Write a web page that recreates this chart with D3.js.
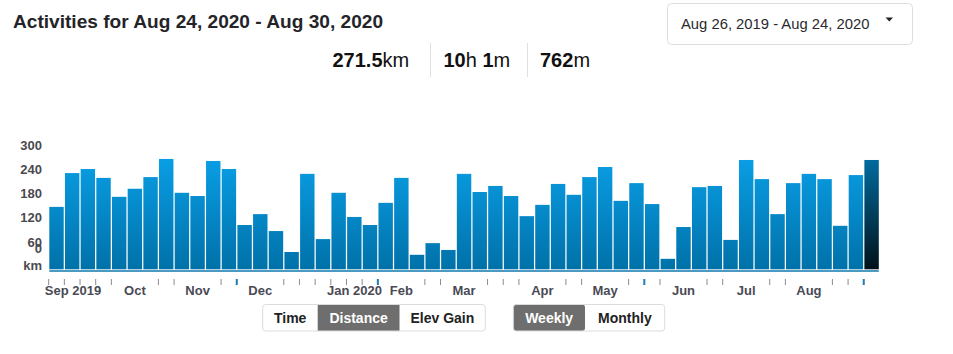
<!DOCTYPE html>
<html>
<head>
<meta charset="utf-8">
<script src="https://cdn.jsdelivr.net/npm/d3@7"></script>
<style>
    body { margin: 0; background: #fff; }
    svg { display: block; font-family: "Liberation Sans", Arial, sans-serif; }
</style>
</head>
<body>
<div id="chart"></div>
<script>

// weekly distances (km), weeks starting Mon Aug 26, 2019
const firstWeek = new Date(2019, 7, 26);
const lastWeek = new Date(2020, 7, 24);
const distances = [
    155, 239, 249, 227, 180, 200, 229, 274, 190, 182,
    269, 249, 110, 137, 95, 43, 237, 75, 190, 130,
    110, 165, 227, 36, 65, 48, 237, 192, 207, 182,
    132, 160, 212, 185, 229, 254, 170, 214, 162, 26,
    105, 204, 207, 73, 271.5, 224, 137, 214, 237, 224,
    108, 234, 271.5
];

// axis labels
const yTicks = [60, 120, 180, 240, 300];
const monthStarts = ['2019-09-01', '2019-10-01', '2019-11-01', '2019-12-01', '2020-01-01', '2020-02-01',
    '2020-03-01', '2020-04-01', '2020-05-01', '2020-06-01', '2020-07-01', '2020-08-01'];
const monthLabels = ['Sep 2019', 'Oct', 'Nov', 'Dec', 'Jan 2020', 'Feb',
    'Mar', 'Apr', 'May', 'Jun', 'Jul', 'Aug'];
const highlightTicks = [12, 21, 32, 35, 38, 41, 49, 52];

// header texts
const titleText = 'Activities for Aug 24, 2020 - Aug 30, 2020';
const rangeText = 'Aug 26, 2019 - Aug 24, 2020';
const stats = [
    [['271.5', true], ['km', false]],
    [['10', true], ['h ', false], ['1', true], ['m', false]],
    [['762', true], ['m', false]]
];
const metricButtons = ['Time', 'Distance', 'Elev Gain'];
const periodButtons = ['Weekly', 'Monthly'];

const width = 953;
const height = 354;

let weeks = d3.timeMonday.range(firstWeek, d3.timeDay.offset(lastWeek, 1));
let data = weeks.map((w, i) => ({week: w, km: distances[i]}));

let mySVG = d3.select('#chart')
    .append('svg')
        .attr('width', width)
        .attr('height', height);

//scales
let x = d3.scaleBand()
    .domain(weeks)
    .range([49.3, 878.8])
    .paddingInner(0.08)
    .paddingOuter(0);

let y = d3.scaleLinear()
    .domain([0, 300])
    .range([269.3, 148.5]);

//gradients
let defs = mySVG.append('defs');

let barGrad = defs.append('linearGradient')
    .attr('id', 'barGrad')
    .attr('gradientUnits', 'userSpaceOnUse')
    .attr('x1', 0).attr('x2', 0)
    .attr('y1', y(300)).attr('y2', y(0));
barGrad.append('stop').attr('offset', 0).attr('stop-color', '#0aa2ea');
barGrad.append('stop').attr('offset', 1).attr('stop-color', '#0071a9');

let selGrad = defs.append('linearGradient')
    .attr('id', 'selGrad')
    .attr('x1', 0).attr('x2', 0)
    .attr('y1', 0).attr('y2', 1);
selGrad.append('stop').attr('offset', 0).attr('stop-color', '#006b9e');
selGrad.append('stop').attr('offset', 1).attr('stop-color', '#02121a');

//title
mySVG.append('text')
    .attr('x', 13)
    .attr('y', 21)
    .attr('dominant-baseline', 'central')
    .style('font-size', '19.1px')
    .style('font-weight', 'bold')
    .style('fill', '#242428')
    .text(titleText);

//date range dropdown
mySVG.append('rect')
    .attr('x', 667.5).attr('y', 3.5)
    .attr('width', 245).attr('height', 41)
    .attr('rx', 4)
    .style('fill', '#fff')
    .style('stroke', '#dedede');

mySVG.append('text')
    .attr('x', 681)
    .attr('y', 24)
    .attr('dominant-baseline', 'central')
    .style('font-size', '14.8px')
    .style('fill', '#2a2a2e')
    .text(rangeText);

mySVG.append('path')
    .attr('d', 'M885.5,17.5 L893,17.5 L889.25,21.5 Z')
    .style('fill', '#222');

//stats row
let statX = [332.5, 443.5, 540];
stats.forEach((parts, i) => {
    let t = mySVG.append('text')
        .attr('x', statX[i])
        .attr('y', 60)
        .attr('dominant-baseline', 'central')
        .style('font-size', '20px')
        .style('fill', '#111');
    parts.forEach(p => {
        t.append('tspan')
            .style('font-weight', p[1] ? 'bold' : 'normal')
            .text(p[0]);
    });
});

mySVG.selectAll('line.divider')
    .data([430.5, 527.5])
    .join('line')
        .classed('divider', true)
        .attr('x1', d => d).attr('x2', d => d)
        .attr('y1', 43).attr('y2', 77)
        .style('stroke', '#e0e0e0');

//bars
mySVG.append('g')
    .selectAll('rect')
    .data(data)
    .join('rect')
        .attr('x', d => x(d.week))
        .attr('y', d => y(d.km))
        .attr('width', x.bandwidth())
        .attr('height', d => y(0) - y(d.km))
        .attr('fill', (d, i) => i == data.length - 1 ? 'url(#selGrad)' : 'url(#barGrad)');

//base strip
mySVG.append('rect')
    .attr('x', x.range()[0])
    .attr('y', y(0) + 0.9)
    .attr('width', x.range()[1] - x.range()[0])
    .attr('height', 1.6)
    .style('fill', '#1f82b4');

//y labels
let yLab = mySVG.append('g')
    .style('font-size', '13px')
    .style('font-weight', 'bold')
    .style('fill', '#4a4a50')
    .attr('text-anchor', 'end');

yLab.selectAll('text.tick')
    .data(yTicks)
    .join('text')
        .classed('tick', true)
        .attr('x', 42)
        .attr('y', d => y(d) - 3)
        .attr('dominant-baseline', 'central')
        .text(d => d);

yLab.append('text')
    .attr('x', 42)
    .attr('y', y(0) - 21)
    .attr('dominant-baseline', 'central')
    .text('0');

yLab.append('text')
    .attr('x', 42)
    .attr('y', y(0) - 3.5)
    .attr('dominant-baseline', 'central')
    .text('km');

//x ticks & month labels
let months = monthStarts.map((m, i) => {
    let wk = d3.timeMonday.floor(d3.timeParse('%Y-%m-%d')(m));
    return {week: wk, idx: weeks.findIndex(w => +w == +wk), label: monthLabels[i]};
});
let hidden = new Set();
months.filter(m => !m.label.includes(' ')).forEach(m => { hidden.add(m.idx); hidden.add(m.idx + 1); });

let gap = x.step() - x.bandwidth();
mySVG.append('g')
    .selectAll('line')
    .data(weeks.map((w, i) => i).filter(i => !hidden.has(i)))
    .join('line')
        .attr('x1', i => x(weeks[i]) - gap / 2)
        .attr('x2', i => x(weeks[i]) - gap / 2)
        .attr('y1', 279)
        .attr('y2', 285)
        .style('stroke', i => highlightTicks.includes(i) ? '#1f7cae' : '#8a8a90')
        .style('stroke-width', i => highlightTicks.includes(i) ? 2 : 1);

mySVG.append('g')
    .style('font-size', '13px')
    .style('font-weight', 'bold')
    .style('fill', '#4a4a55')
    .selectAll('text')
    .data(months)
    .join('text')
        .attr('x', d => d.label.includes(' ') ? x(d.week) - 4.5 : x(d.week) + x.bandwidth() / 2)
        .attr('y', 290)
        .attr('dominant-baseline', 'central')
        .attr('text-anchor', d => d.label.includes(' ') ? 'start' : 'middle')
        .text(d => d.label);

//toggle buttons
function buttonGroup(labels, edges, selected) {
    let g = mySVG.append('g');
    labels.forEach((lab, i) => {
        if (i == selected) {
            g.append('rect')
                .attr('x', edges[i]).attr('y', 304.5)
                .attr('width', edges[i + 1] - edges[i]).attr('height', 26.5)
                .attr('rx', i == 0 ? 3 : 0)
                .style('fill', '#6e6e6e');
        }
        g.append('text')
            .attr('x', (edges[i] + edges[i + 1]) / 2)
            .attr('y', 318)
            .attr('text-anchor', 'middle')
            .attr('dominant-baseline', 'central')
            .style('font-size', '14px')
            .style('font-weight', 'bold')
            .style('fill', i == selected ? '#fff' : '#222')
            .text(lab);
    });
    g.append('rect')
        .attr('x', edges[0]).attr('y', 304.5)
        .attr('width', edges[edges.length - 1] - edges[0]).attr('height', 26.5)
        .attr('rx', 3)
        .style('fill', 'none')
        .style('stroke', '#dcdcdc');
}

buttonGroup(metricButtons, [262.7, 317.7, 399.5, 485.3], 1);
buttonGroup(periodButtons, [513.3, 585, 664.7], 0);

</script>
</body>
</html>
